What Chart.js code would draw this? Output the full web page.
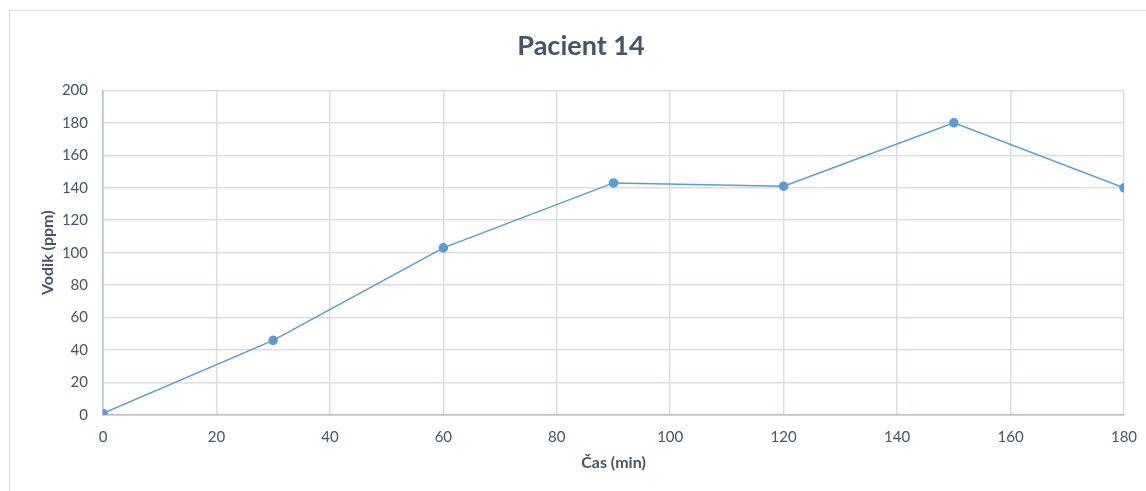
<!DOCTYPE html>
<html>
<head>
<meta charset="utf-8">
<script src="https://cdn.jsdelivr.net/npm/chart.js@4"></script>
<style>
  body { margin: 0; background: #fff; }
  #frame { position: absolute; left: 9px; top: 10px; width: 1150px; height: 500px; border: 1px solid #d9dde6; }
  #wrap { position: absolute; left: 0; top: 0; width: 1146px; height: 491px; }
</style>
</head>
<body>
<div id="frame"></div>
<div id="wrap"><canvas id="chart"></canvas></div>
<script>
const casMin = [0, 30, 60, 90, 120, 150, 180];
const vodikPpm = [1, 46, 103, 143, 141, 180, 140];

const fontFam = 'Lato, "Open Sans", sans-serif';
const textColor = '#44546a';

const points = casMin.map((x, i) => ({ x: x, y: vodikPpm[i] }));

const ctx = document.getElementById('chart').getContext('2d');
new Chart(ctx, {
  type: 'line',
  data: {
    datasets: [{
      label: 'Pacient 14',
      data: points,
      borderColor: '#5b9bd5',
      backgroundColor: '#5b9bd5',
      borderWidth: 1.5,
      pointRadius: 4,
      pointHoverRadius: 4,
      fill: false,
      tension: 0
    }]
  },
  options: {
    responsive: true,
    maintainAspectRatio: false,
    animation: false,
    layout: { padding: { left: 38, right: 22, top: 30, bottom: 19 } },
    plugins: {
      legend: { display: false },
      tooltip: { enabled: false },
      title: {
        display: true,
        text: 'Pacient 14',
        color: textColor,
        font: { family: fontFam, size: 27, weight: 'bold' },
        padding: { top: 0, bottom: 28 }
      }
    },
    scales: {
      x: {
        type: 'linear',
        min: 0,
        max: 180,
        afterFit: (scale) => {
          scale.height = 57;
          scale.paddingLeft = 0;
          scale.paddingRight = 0;
        },
        ticks: { stepSize: 20, color: textColor, font: { family: fontFam, size: 15 }, padding: 13 },
        grid: { color: '#d9dde6', lineWidth: 1.5, drawTicks: false },
        border: { color: '#b7bfcd', width: 1.5 },
        title: {
          display: true,
          text: 'Čas (min)',
          color: textColor,
          font: { family: fontFam, size: 16, weight: 'bold' },
          padding: { top: 0, bottom: 0 }
        }
      },
      y: {
        min: 0,
        max: 200,
        afterFit: (scale) => { scale.width = 65; },
        ticks: { stepSize: 20, color: textColor, font: { family: fontFam, size: 15 }, padding: 15 },
        grid: { color: '#d9dde6', lineWidth: 1.5, drawTicks: false },
        border: { color: '#b7bfcd', width: 1.5 },
        title: {
          display: true,
          text: 'Vodik (ppm)',
          color: textColor,
          font: { family: fontFam, size: 16, weight: 'bold' },
          padding: { top: 0, bottom: 0 }
        }
      }
    }
  }
});
</script>
</body>
</html>
